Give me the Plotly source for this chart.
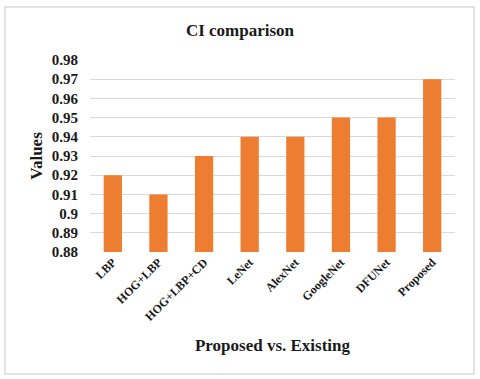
import plotly.graph_objects as go

# CI values
methods = ['LBP', 'HOG+LBP', 'HOG+LBP+CD', 'LeNet', 'AlexNet', 'GoogleNet', 'DFUNet', 'Proposed']
ci_values = [0.92, 0.91, 0.93, 0.94, 0.94, 0.95, 0.95, 0.97]

serif = 'Liberation Serif, Times New Roman, serif'

fig = go.Figure()
fig.add_trace(go.Bar(x=methods, y=ci_values, marker=dict(color='#ED7D31', line=dict(width=0))))

fig.update_layout(
    width=480, height=379,
    margin=dict(l=90, r=25, t=60, b=127),
    paper_bgcolor='white', plot_bgcolor='white',
    font=dict(family=serif, color='#1a1a1a'),
    bargap=0.6,
    showlegend=False,
    title=dict(text='<b>CI comparison</b>', x=0.5, xanchor='center', y=0.92, yanchor='middle',
               font=dict(size=17, family=serif, color='#1a1a1a')),
)
fig.update_yaxes(
    range=[0.88, 0.98], dtick=0.01, tick0=0.88,
    showgrid=True, gridcolor='#D9D9D9', gridwidth=1,
    zeroline=False, showline=False, automargin=False,
    tickfont=dict(size=15, family=serif),
    ticklabelstandoff=11,
    tickprefix='<b>', ticksuffix='</b>',
    title=dict(text='<b>Values</b>', font=dict(size=17, family=serif), standoff=4),
)
fig.update_xaxes(
    showgrid=False, showline=False, tickangle=-45, automargin=False,
    tickfont=dict(size=12, family=serif),
    tickprefix='<b>', ticksuffix='</b>',
    title=dict(text='<b>Proposed vs. Existing</b>', font=dict(size=17, family=serif), standoff=16),
)
# outer frame around the chart
fig.add_shape(type='rect', xref='paper', yref='paper', x0=-0.233, x1=1.052, y0=-0.635, y1=1.276,
              line=dict(color='#D9D9D9', width=1.5), layer='below')

# drop the default body margin so the figure sits at the window origin
fig.write_html('out.html', config={'displayModeBar': False},
               post_script="document.body.style.margin='0';")
